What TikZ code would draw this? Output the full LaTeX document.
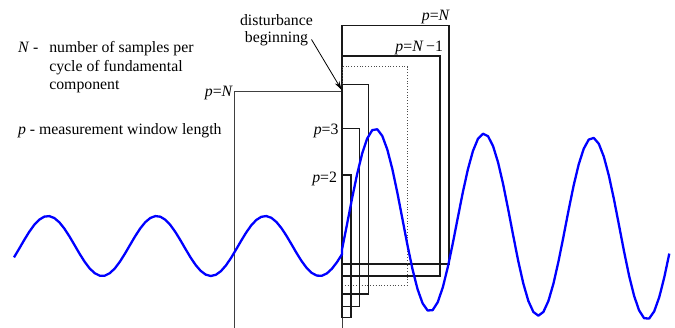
\documentclass[tikz,border=0pt]{standalone}
\usepackage{fontspec}
\setmainfont{Liberation Serif}
\usetikzlibrary{arrows.meta}
\begin{document}
\begin{tikzpicture}[x=1pt,y=-1pt,
  every node/.style={inner sep=0pt,outer sep=0pt,font=\fontsize{15.8}{18.5}\selectfont},
  winbox/.style={draw=black!90,line width=1.3pt},
  winthin/.style={draw=black!75,line width=0.9pt},
  windot/.style={draw=black!70,line width=0.8pt,dotted},
  wave/.style={draw=blue,line width=2.3pt,line join=round},
  lbl/.style={anchor=base east}]
\path[use as bounding box] (0,0) rectangle (675,328);
% left window p=N
\draw[winthin] (342,330) |- (234.3,91.7) -- (234.3,330);
% right windows
\draw[winbox] (342,25.7) rectangle (449,264);
\draw[winbox] (342,56) rectangle (440,276);
\draw[windot] (342,66.7) rectangle (407.3,285);
\draw[winbox] (342,84.3) rectangle (368.3,294);
\draw[winbox] (342,128.3) rectangle (359.3,306.7);
\draw[winbox] (342,175) rectangle (351,317.3);
% labels
\node[lbl] (lNtop) at (450,21) {\textit{p}=\textit{N}};
\node[lbl] (lN1) at (443,52) {\textit{p}=\textit{N}\,−1};
\node[lbl] (lNleft) at (233,97) {\textit{p}=\textit{N}};
\node[lbl] (l3) at (338.5,135) {\textit{p}=3};
\node[lbl] (l2) at (337,183) {\textit{p}=2};
% legend
\node[anchor=base west] (nsym) at (18,53) {\textit{N} -};
\node[anchor=base west,align=left] (ntext) at (49.3,90) {number of samples per\\cycle of fundamental\\component};
\node[anchor=base west] (ptext) at (18,135) {\textit{p} - measurement window length};
% disturbance
\node[anchor=base,align=center,font=\fontsize{15.8}{17}\selectfont] (dist) at (276.5,43) {disturbance\\beginning};
\coordinate (dtip) at (341.7,90);
\draw[line width=0.8pt,-{Stealth[length=9pt,width=5pt]}] (311.5,39.5) -- (dtip);
% signal
\draw[wave] plot[domain=14:342,samples=66] (\x,{246-30*cos(3.31187*(\x-47.9))})
  -- plot[domain=342:669.3,samples=66] (\x,{246-90*cos(3.31797*(\x-375.5))-29*exp(-(\x-342)/549)});
\end{tikzpicture}
\end{document}
